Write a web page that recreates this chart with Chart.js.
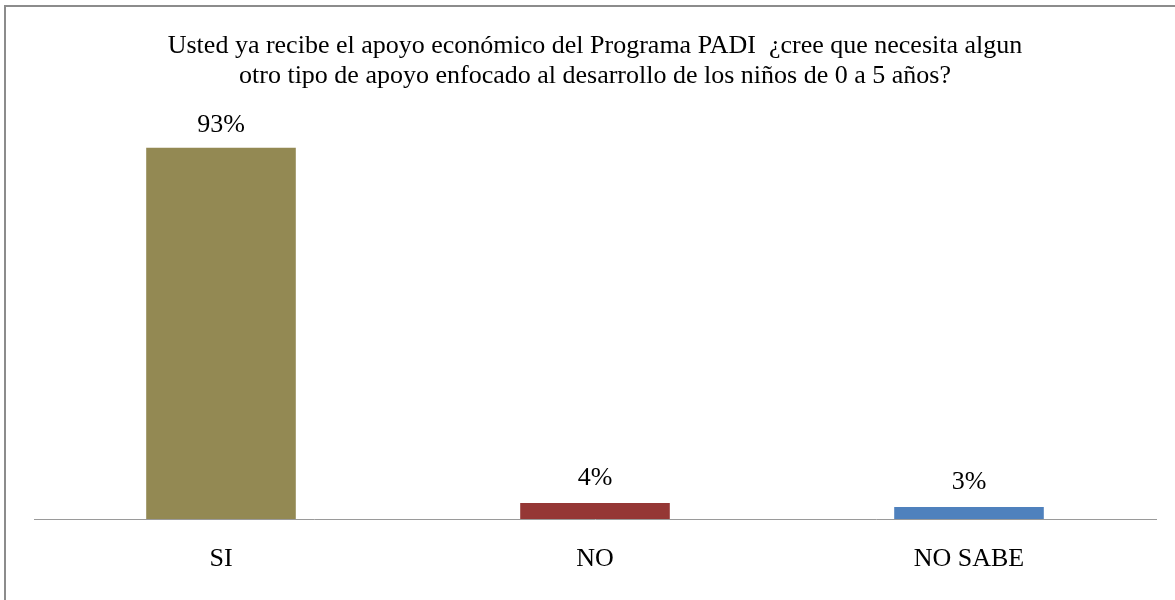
<!DOCTYPE html>
<html>
<head>
<meta charset="utf-8">
<script src="https://cdn.jsdelivr.net/npm/chart.js@4/dist/chart.umd.min.js"></script>
<style>
  html, body { margin: 0; padding: 0; background: #fff; }
  #wrap { position: relative; width: 1175px; height: 600px; overflow: hidden; }
  #frame {
    position: absolute; left: 4px; top: 5px; width: 1200px; height: 700px;
    border-left: 2px solid #8c8c8c; border-top: 2px solid #8c8c8c;
    pointer-events: none;
  }
  canvas { position: absolute; left: 0; top: 0; }
</style>
</head>
<body>
<div id="wrap">
  <div id="frame"></div>
  <canvas id="chart" width="1175" height="600"></canvas>
</div>
<script>
// categories and values
const categories = ["SI", "NO", "NO SABE"];
const values = [93, 4, 3];
const barColors = ["#938953", "#953735", "#4F81BD"];
const titleLines = [
  "Usted ya recibe el apoyo económico del Programa PADI  ¿cree que necesita algun",
  "otro tipo de apoyo enfocado al desarrollo de los niños de 0 a 5 años?",
];

const SERIF = "'Liberation Serif', 'Times New Roman', serif";

// value labels above each bar (no datalabels plugin offline)
const valueLabels = {
  id: "valueLabels",
  afterDatasetsDraw(chart) {
    const ctx = chart.ctx;
    const meta = chart.getDatasetMeta(0);
    ctx.save();
    ctx.font = "26px " + SERIF;
    ctx.fillStyle = "#000";
    ctx.textAlign = "center";
    ctx.textBaseline = "alphabetic";
    meta.data.forEach((bar, i) => {
      ctx.fillText(values[i] + "%", bar.x, bar.y - (i === 0 ? 16 : 18));
    });
    ctx.restore();
  },
};

new Chart(document.getElementById("chart"), {
  type: "bar",
  data: {
    labels: categories,
    datasets: [{
      data: values,
      backgroundColor: barColors,
      borderWidth: 0,
      categoryPercentage: 1,
      barPercentage: 0.4,
    }],
  },
  options: {
    responsive: false,
    animation: false,
    layout: { padding: { left: 34, right: 19, top: 0, bottom: 26 } },
    plugins: {
      legend: { display: false },
      tooltip: { enabled: false },
      title: {
        display: true,
        text: titleLines,
        color: "#000",
        font: { family: SERIF, size: 26, weight: "normal", lineHeight: 1.15 },
        padding: { top: 31, bottom: 29 },
      },
    },
    scales: {
      x: {
        grid: { display: false, drawTicks: false },
        border: { color: "#9a9a9a", width: 1 },
        ticks: { color: "#000", font: { family: SERIF, size: 26 }, padding: 25 },
        afterFit(scale) { scale.height = 55; },
      },
      y: {
        display: false,
        min: 0,
        max: 100,
      },
    },
  },
  plugins: [valueLabels],
});
</script>
</body>
</html>
